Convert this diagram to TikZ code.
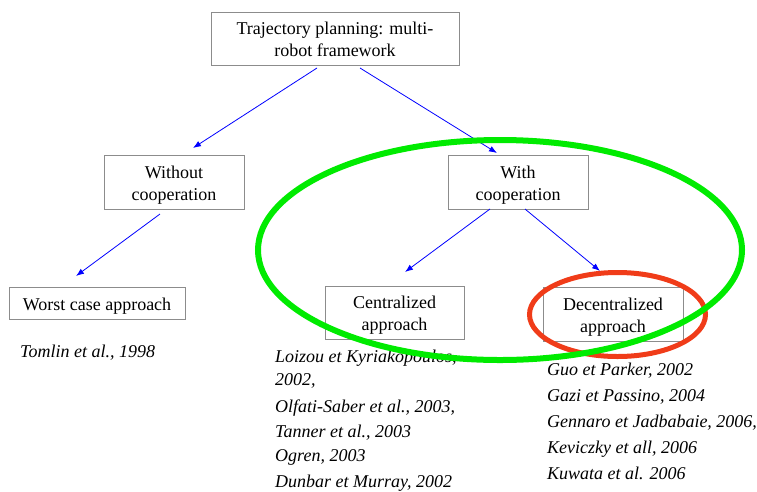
\documentclass[tikz,border=0pt]{standalone}
\usepackage{fontspec}
\setmainfont{Liberation Serif}
\usetikzlibrary{arrows.meta}
\newcommand\bxs{\rule{0pt}{18pt}}
\newcommand\bxe{\rule[-4pt]{0pt}{4pt}}
\begin{document}
\begin{tikzpicture}[x=1pt,y=-1pt,
  box/.style={draw=black!45,line width=0.9pt,inner sep=0pt,align=center,font=\fontsize{18}{22}\selectfont},
  ref/.style={anchor=base west,inner sep=0pt,font=\fontsize{18}{22}\selectfont\itshape},
  arr/.style={draw=blue,line width=0.8pt,-{Latex[length=8pt,width=6pt]}},
  grn/.style={draw={rgb,255:red,0;green,235;blue,0},line width=6pt},
  rd/.style={draw={rgb,255:red,240;green,60;blue,25},line width=5pt}]
\useasboundingbox (0,0) rectangle (757,491);
\node[box,minimum width=248pt,minimum height=53pt] (top) at (335,38.5) {\bxs Trajectory planning: multi-\\robot framework\bxe};
\node[box,minimum width=140pt,minimum height=54pt] (wo) at (174,182) {\bxs Without\\cooperation\bxe};
\node[box,minimum width=140pt,minimum height=54pt] (wi) at (518,182) {\bxs With\\cooperation\bxe};
\node[box,minimum width=176pt,minimum height=32pt] (worst) at (97,303) {\bxs Worst case approach\bxe};
\node[box,minimum width=139pt,minimum height=53pt] (cen) at (394.5,312.5) {\bxs Centralized\\approach\bxe};
\node[box,minimum width=140pt,minimum height=54pt] (dec) at (613,314) {\bxs Decentralized\\approach\bxe};
\coordinate (a1s) at (317,68);
\coordinate (a1e) at (193,148);
\coordinate (a2s) at (360,68);
\coordinate (a2e) at (497,153);
\coordinate (a3s) at (160,214);
\coordinate (a3e) at (76,276);
\coordinate (a4s) at (490,209);
\coordinate (a4e) at (405,272);
\coordinate (a5s) at (525,209);
\coordinate (a5e) at (600,271);
\draw[arr] (a1s) -- (a1e);
\draw[arr] (a2s) -- (a2e);
\draw[arr] (a3s) -- (a3e);
\draw[arr] (a4s) -- (a4e);
\draw[arr] (a5s) -- (a5e);
\node[ref] (tom) at (20,357) {Tomlin et al., 1998};
\node[ref] (r1) at (275,362) {Loizou et Kyriakopoulos,};
\node[ref] (r2) at (275,385) {2002,};
\node[ref] (r3) at (275,412) {Olfati-Saber et al., 2003,};
\node[ref] (r4) at (275,437) {Tanner et al., 2003};
\node[ref] (r5) at (275,461) {Ogren, 2003};
\node[ref] (r6) at (275,487) {Dunbar et Murray, 2002};
\node[ref] (d1) at (547,375) {Guo et Parker, 2002};
\node[ref] (d2) at (547,401) {Gazi et Passino, 2004};
\node[ref] (d3) at (547,427) {Gennaro et Jadbabaie, 2006,};
\node[ref] (d4) at (547,453) {Keviczky et all, 2006};
\node[ref] (d5) at (547,479) {Kuwata et al. 2006};
\draw[rd] (617.5,314.5) ellipse [x radius=88,y radius=42];
\draw[grn] (500,250) ellipse [x radius=242,y radius=110];
\end{tikzpicture}
\end{document}
